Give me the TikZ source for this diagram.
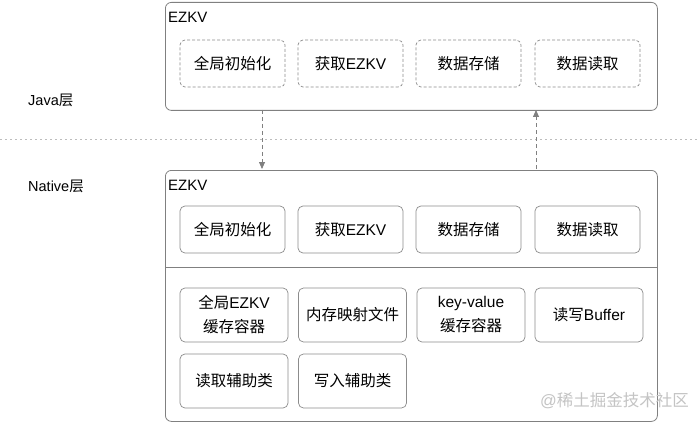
\documentclass[tikz,border=0pt]{standalone}
\usepackage{fontspec}
\setmainfont{Liberation Sans}
\newfontfamily\cjk{Noto Sans CJK SC}
\usetikzlibrary{arrows.meta}
\definecolor{boxgray}{HTML}{808080}
\definecolor{innergray}{HTML}{8C8C8C}
\definecolor{sepgray}{HTML}{BDBDBD}
\definecolor{wmgray}{HTML}{C4C4C4}
\begin{document}
\begin{tikzpicture}[x=1pt,y=-1pt,
  outerbox/.style={draw=boxgray, line width=0.8pt, rounded corners=6pt, anchor=north west, inner sep=0pt},
  dbox/.style={draw=innergray, line width=0.7pt, rounded corners=5pt, dash pattern=on 3pt off 2pt, minimum width=105pt, minimum height=47pt, inner sep=0pt, font=\fontsize{15.5}{18}\selectfont},
  sbox/.style={draw=innergray, line width=0.7pt, rounded corners=5pt, minimum width=105pt, minimum height=47pt, inner sep=0pt, font=\fontsize{15.5}{18}\selectfont},
  lbox/.style={draw=innergray, line width=0.7pt, rounded corners=5pt, minimum width=108pt, minimum height=54pt, inner sep=0pt, align=center, font=\fontsize{15.5}{24}\selectfont},
  title/.style={anchor=west, inner sep=0pt, font=\fontsize{15}{16}\selectfont},
  layer/.style={anchor=west, inner sep=0pt, font=\fontsize{14.5}{16}\selectfont},
  arr/.style={draw=boxgray, line width=0.8pt, dash pattern=on 4pt off 3pt, -{Triangle[length=7pt,width=6pt,fill=boxgray]}}
]
\useasboundingbox (0,0) rectangle (700,422);
\fill[white] (0,0) rectangle (700,422);

% layer separator
\coordinate (sepL) at (0,139);
\coordinate (sepR) at (700,139);
\draw[sepgray, line width=0.8pt, dash pattern=on 2pt off 3pt] (sepL) -- (sepR);

\node[layer] (java) at (28,100) {Java{\cjk 层}};
\node[layer] (native) at (28,186) {Native{\cjk 层}};

% Java layer box
\node[outerbox, minimum width=492pt, minimum height=108pt] (jbox) at (165,2) {};
\node[title] (jtitle) at (168,17) {EZKV};
\node[dbox] (j1) at (232.5,63.5) {\cjk 全局初始化};
\node[dbox] (j2) at (350.5,63.5) {{\cjk 获取}EZKV};
\node[dbox] (j3) at (468.5,63.5) {\cjk 数据存储};
\node[dbox] (j4) at (587.5,63.5) {\cjk 数据读取};

% Native layer box
\node[outerbox, minimum width=492pt, minimum height=251pt] (nbox) at (165,170) {};
\node[title] (ntitle) at (168,185) {EZKV};
\node[sbox] (n1) at (232.5,229.5) {\cjk 全局初始化};
\node[sbox] (n2) at (350.5,229.5) {{\cjk 获取}EZKV};
\node[sbox] (n3) at (468.5,229.5) {\cjk 数据存储};
\node[sbox] (n4) at (587.5,229.5) {\cjk 数据读取};
\coordinate (divL) at (165,267);
\coordinate (divR) at (657,267);
\draw[boxgray, line width=0.8pt] (divL) -- (divR);

\node[lbox] (m1) at (234,315) {{\cjk 全局}EZKV\\{\cjk 缓存容器}};
\node[lbox] (m2) at (352.5,315) {\cjk 内存映射文件};
\node[lbox] (m3) at (471,315) {key-value\\{\cjk 缓存容器}};
\node[lbox] (m4) at (589,315) {{\cjk 读写}Buffer};
\node[lbox] (m5) at (234,381) {\cjk 读取辅助类};
\node[lbox] (m6) at (352.5,381) {\cjk 写入辅助类};

% arrows between layers
\coordinate (downS) at (262,110);
\coordinate (downE) at (262,169);
\coordinate (upS) at (536,169);
\coordinate (upE) at (536,110);
\draw[arr] (downS) -- (downE);
\draw[arr] (upS) -- (upE);

% watermark
\node[anchor=east, inner sep=0pt, text=wmgray, font=\fontsize{16.5}{18}\selectfont] (wm) at (689,401) {@{\cjk 稀土掘金技术社区}};
\end{tikzpicture}
\end{document}
